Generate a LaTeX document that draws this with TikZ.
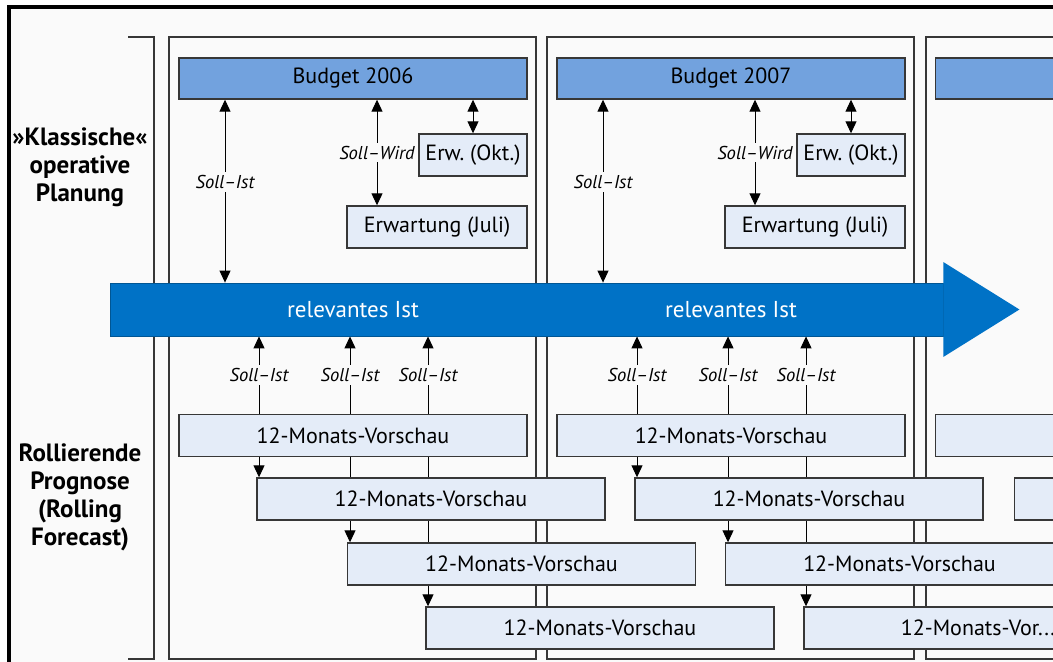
\documentclass[tikz,border=0pt]{standalone}
\usepackage{fontspec}
\setmainfont{PT Sans}
\usetikzlibrary{arrows.meta,backgrounds}

\definecolor{planbg}{RGB}{250,250,250}
\definecolor{budgetblue}{RGB}{114,162,222}
\definecolor{boxblue}{RGB}{228,236,248}
\definecolor{istblue}{RGB}{0,114,198}
\definecolor{linegrey}{RGB}{55,55,55}

\tikzset{
	budget/.style={draw=linegrey, line width=0.7pt, fill=budgetblue, minimum width=174pt, minimum height=20.5pt, inner sep=0pt, font=\fontsize{11}{13}\selectfont},
	forecast/.style={draw=linegrey, line width=0.7pt, fill=boxblue, minimum width=174pt, minimum height=21pt, inner sep=0pt, font=\fontsize{11}{13}\selectfont},
	lbl/.style={fill=planbg, inner sep=1.5pt, font=\itshape\fontsize{9.3}{10}\selectfont},
	side/.style={align=center, font=\bfseries\fontsize{12.5}{14}\selectfont},
	panel/.style={draw=linegrey, line width=0.6pt},
	conn/.style={draw=black, line width=0.5pt},
	shaft/.style={fill=istblue, draw=istblue!75!black, line width=0.4pt, minimum width=416.5pt, minimum height=26.5pt, inner sep=0pt},
	isttext/.style={text=white, font=\fontsize{11.5}{13}\selectfont}
}

\begin{document}
\begin{tikzpicture}[x=0.5pt, y=-0.5pt, >={Triangle[length=6pt,width=5.5pt]}]
	\useasboundingbox (0,0) rectangle (1053,662);
	\clip (0,0) rectangle (1053,662);
	\draw[line width=1.6pt] (9,662) -- (9,7) -- (1053,7);

	% Background, bracket and panels {2006, 2007, 2008}
	\begin{scope}[on background layer]
		\fill [planbg] (9,7) rectangle (1053,662);
		\draw [panel] (128,37) -- (154,37) -- (154,659) -- (128,659);
		\foreach \dx in {0, 378, 757}
			\draw [panel, shift={(\dx,0)}] (169,37) rectangle (536,659);
	\end{scope}

	% Side labels
	\node [side] (klass) at (80,167) {»Klassische«\\operative\\Planung};
	\node [side] (roll)  at (80,497) {Rollierende\\Prognose\\(Rolling\\Forecast)};

	% Nodes {budget, expectations, forecasts}
	\foreach \yr/\dx in {2006/0, 2007/378} {
		\begin{scope}[shift={(\dx,0)}]
			\node [budget]                      (bud\yr)  at (353,78.5)  {Budget \yr};
			\node [forecast, minimum width=54pt] (okt\yr)  at (473,155)   {Erw.\ (Okt.)};
			\node [forecast, minimum width=90pt] (juli\yr) at (437,227)   {Erwartung (Juli)};
			\node [forecast]                    (va\yr)   at (353,435.5) {12-Monats-Vorschau};
			\node [forecast]                    (vb\yr)   at (431,499)   {12-Monats-Vorschau};
			\node [forecast]                    (vc\yr)   at (521.5,564) {12-Monats-Vorschau};
			\coordinate (ka\yr) at (225,0);
			\coordinate (kw\yr) at (377,0);
			\coordinate (ra\yr) at (259,0);
			\coordinate (rb\yr) at (350,0);
			\coordinate (rc\yr) at (428,0);
		\end{scope}
	}
	\node [forecast] (vd2006) at (600,628) {12-Monats-Vorschau};
	\node [forecast] (vd2007) at (978,628) {12-Monats-Vor...};

	% Panel 2008 (cut off)
	\node [budget, anchor=west]   (bud2008) at (935,78.5)  {};
	\node [forecast, anchor=west] (va2008)  at (935,435.5) {};
	\node [forecast, anchor=west] (vb2008)  at (1014,499)  {};

	% Arrow
	\node [shaft] (ist) at (526.5,309.5) {};
	\fill [istblue] ([yshift=10.25pt]ist.north east) -- ([xshift=38pt]ist.east) -- ([yshift=-10.25pt]ist.south east) -- cycle;
	\node [isttext] (ist2006) at (353,310) {relevantes Ist};
	\node [isttext] (ist2007) at (731,310) {relevantes Ist};

	% Paths
	\begin{scope}[on background layer]
		\foreach \yr in {2006, 2007} {
			\draw [conn, <->] (bud\yr.south -| ka\yr) -- node [lbl, pos=0.45] {Soll--Ist}  (ist.north -| ka\yr);
			\draw [conn, <->] (bud\yr.south -| kw\yr) -- node [lbl]           {Soll--Wird} (juli\yr.north -| kw\yr);
			\draw [conn, <->] (bud\yr.south -| okt\yr) -- (okt\yr.north);
			\draw [conn, ->]  (va\yr.north -| ra\yr) -- node [lbl] {Soll--Ist} (ist.south -| ra\yr);
			\draw [conn, ->]  (va\yr.north -| rb\yr) -- node [lbl] {Soll--Ist} (ist.south -| rb\yr);
			\draw [conn, ->]  (va\yr.north -| rc\yr) -- node [lbl] {Soll--Ist} (ist.south -| rc\yr);
			\draw [conn, ->]  (va\yr.south -| ra\yr) -- (vb\yr.north -| ra\yr);
			\draw [conn, ->]  (va\yr.south -| rb\yr) -- (vc\yr.north -| rb\yr);
			\draw [conn, ->]  (va\yr.south -| rc\yr) -- (vd\yr.north -| rc\yr);
		}
	\end{scope}
\end{tikzpicture}
\end{document}
